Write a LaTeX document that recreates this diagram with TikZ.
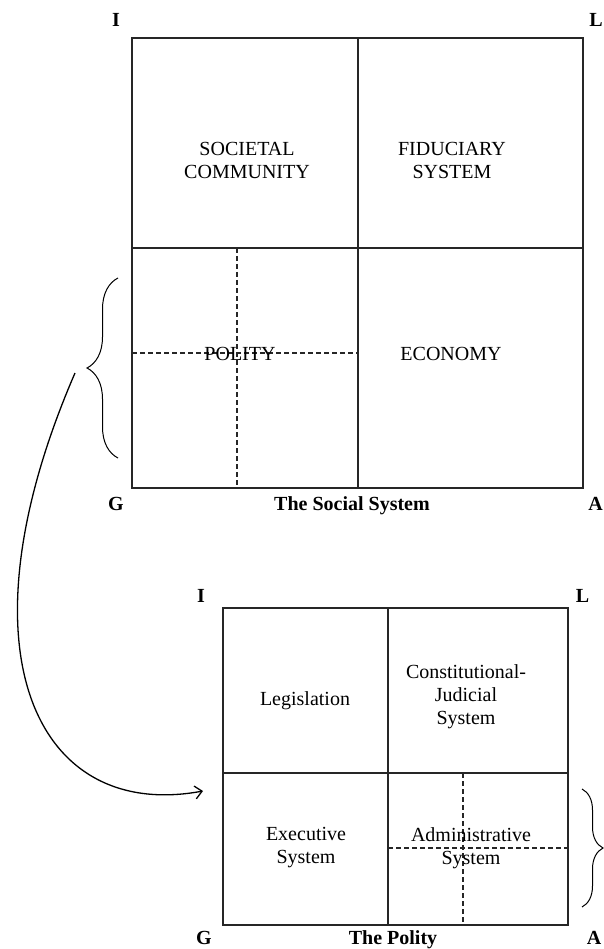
\documentclass[tikz,border=0pt]{standalone}
\usepackage{fontspec}
\setmainfont{Liberation Serif}
\usepackage{tikz}
\usetikzlibrary{arrows.meta,decorations.pathreplacing}
\tikzset{
  frame/.style={
    line width=1.2pt,
    draw=black!85
  },
  subline/.style={
    line width=1.1pt,
    draw=black!85,
    dash pattern=on 5pt off 3pt
  },
  cellText/.style={
    align=center,
    inner sep=0pt,
    font=\fontsize{20}{23}\selectfont
  },
  cornerLabel/.style={
    anchor=base,
    inner sep=0pt,
    font=\fontsize{20}{23}\selectfont\bfseries
  },
  bracket/.style={
    decorate,
    decoration={brace,amplitude=#1},
    line width=1pt
  },
  link/.style={
    -{Straight Barb[length=7pt,width=13pt]},
    line width=1.3pt
  }
}

\begin{document}
\begin{tikzpicture}[x=1pt,y=-1pt]
  \useasboundingbox (0,0) rectangle (604,949);

  % social system
  \draw[frame] (132,38) rectangle (583,488);
  \draw[frame] (358,38) -- (358,488);
  \draw[frame] (132,248) -- (583,248);
  \draw[subline] (237,248) -- (237,488);
  \draw[subline] (132,353) -- (358,353);
  \node[cellText] (societal) at (247,160) {SOCIETAL\\COMMUNITY};
  \node[cellText] (fiduciary) at (452,160) {FIDUCIARY\\SYSTEM};
  \node[cellText] (polity) at (240,354) {POLITY};
  \node[cellText] (economy) at (451,354) {ECONOMY};
  \node[cornerLabel] (socialI) at (116,27) {I};
  \node[cornerLabel,anchor=base east] (socialL) at (603,27) {L};
  \node[cornerLabel] (socialG) at (116,510) {G};
  \node[cornerLabel] (socialTitle) at (352,510) {The Social System};
  \node[cornerLabel,anchor=base east] (socialA) at (603,510) {A};
  \draw[bracket=31pt] (118,458) -- (118,278);

  % the polity
  \draw[frame] (223,608) rectangle (568,925);
  \draw[frame] (388,608) -- (388,925);
  \draw[frame] (223,773) -- (568,773);
  \draw[subline] (463,773) -- (463,925);
  \draw[subline] (388,848) -- (568,848);
  \node[cellText,anchor=base] (legislation) at (305,705) {Legislation};
  \node[cellText] (judicial) at (466,697) {Constitutional-\\Judicial\\System};
  \node[cellText] (executive) at (306,848) {Executive\\System};
  \node[cellText] (administrative) at (471,848) {Administrative\\System};
  \node[cornerLabel] (polityI) at (201,602) {I};
  \node[cornerLabel] (polityL) at (582.5,602) {L};
  \node[cornerLabel] (polityG) at (204,944) {G};
  \node[cornerLabel] (polityTitle) at (393,944) {The Polity};
  \node[cornerLabel] (polityA) at (594,944) {A};
  \draw[bracket=21pt] (582,789) -- (582,907);

  % polity pulled out into its own system
  \coordinate (linkFrom) at (75,373);
  \coordinate (linkTo) at (203,791);
  \draw[link] (linkFrom) .. controls (-45,650) and (35,822) .. (linkTo);
\end{tikzpicture}
\end{document}
